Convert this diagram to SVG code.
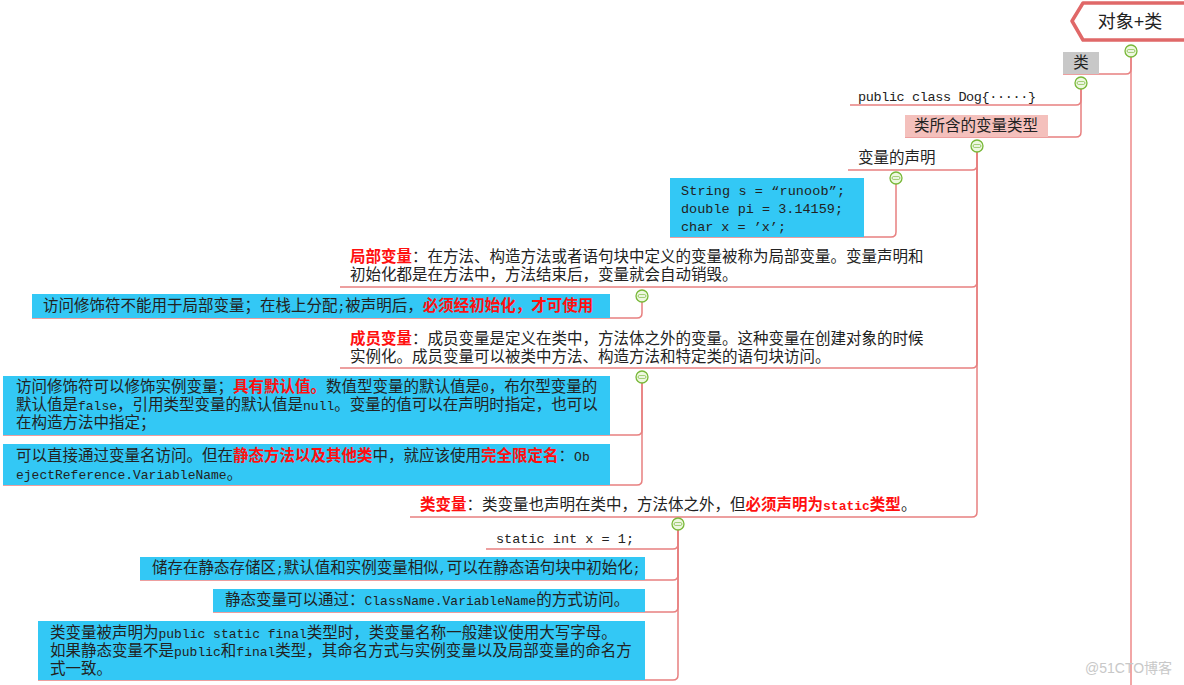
<svg xmlns="http://www.w3.org/2000/svg" width="1184" height="685" viewBox="0 0 1184 685">
<style>
.t{font-family:"Liberation Sans","Noto Sans CJK SC",sans-serif;font-size:15.5px;fill:#222}
.m{font-family:"Liberation Mono","Noto Sans CJK SC",monospace;font-size:13px}
.r{fill:#ff1010;font-weight:bold}
.code{font-family:"Liberation Mono","Noto Sans CJK SC",monospace;font-size:13.5px;fill:#222}
.c{fill:none;stroke:#e88080;stroke-width:1.5}
.blue{fill:#33c8f5}
.tog circle{fill:#eef8e0;stroke:#78b838;stroke-width:1.3}
.tog rect{fill:#fff;stroke:#78b838;stroke-width:0.8}
</style>
<defs>
<g id="tg" class="tog"><circle r="6"/><rect x="-3.8" y="-1.3" width="7.6" height="2.6" rx="1"/></g>
</defs>
<rect width="1184" height="685" fill="#fff"/>

<g id="connectors">
<path d="M1131,51 V685" fill="none" stroke="#f2a6a6" stroke-width="2"/>
<path class="c" d="M1131,57 V69 Q1131,74 1126,74 H1063"/>
<path class="c" d="M1081,89 V100 Q1081,105 1076,105 H850"/>
<path class="c" d="M1081,89 V132 Q1081,137 1076,137 H905"/>
<path class="c" d="M977,152 V165 Q977,170 972,170 H848"/>
<path class="c" d="M977,152 V282 Q977,287 972,287 H340"/>
<path class="c" d="M977,152 V363 Q977,368 972,368 H340"/>
<path class="c" d="M977,152 V512 Q977,517 972,517 H410"/>
<path class="c" d="M896,184 V232 Q896,237 891,237 H670"/>
<path class="c" d="M642,302 V313 Q642,318 637,318 H32"/>
<path class="c" d="M642,383 V430 Q642,435 637,435 H3"/>
<path class="c" d="M642,383 V480 Q642,485 637,485 H3"/>
<path class="c" d="M678,530 V544 Q678,549 673,549 H486"/>
<path class="c" d="M678,530 V575 Q678,580 673,580 H140"/>
<path class="c" d="M678,530 V607 Q678,612 673,612 H213"/>
<path class="c" d="M678,530 V675 Q678,680 673,680 H38"/>
</g>

<g id="root">
<path d="M1072,21 L1083,3 H1190 V40 H1083 Z" fill="#fff" stroke="#e06868" stroke-width="3.5" stroke-linejoin="round"/>
<text x="1130" y="28" text-anchor="middle" class="t" style="font-size:18px">对象+类</text>
<use href="#tg" x="1131" y="51"/>
</g>

<g id="n-lei">
<rect x="1063" y="52" width="36" height="22" fill="#c8c8c8"/>
<text x="1081" y="68" text-anchor="middle" class="t">类</text>
<use href="#tg" x="1081" y="83"/>
</g>

<g id="n-dog">
<text x="858" y="101" class="code" textLength="178">public class Dog{·····}</text>
</g>

<g id="n-types">
<rect x="905" y="115" width="143" height="22" fill="#f4c0bc"/>
<text x="914" y="131" class="t">类所含的变量类型</text>
<use href="#tg" x="977" y="146"/>
</g>

<g id="n-decl">
<text x="858" y="163" class="t">变量的声明</text>
<use href="#tg" x="896" y="178"/>
</g>

<g id="n-code">
<rect x="670" y="178" width="194" height="59" class="blue"/>
<text x="681" y="195" class="code" textLength="164">String s = “runoob”;</text>
<text x="681" y="213" class="code" textLength="162">double pi = 3.14159;</text>
<text x="681" y="231" class="code" textLength="105">char x = ’x’;</text>
</g>

<g id="n-local">
<text x="350" y="262" class="t"><tspan class="r">局部变量</tspan>：在方法、构造方法或者语句块中定义的变量被称为局部变量。变量声明和</text>
<text x="350" y="280" class="t">初始化都是在方法中，方法结束后，变量就会自动销毁。</text>
<use href="#tg" x="642" y="296"/>
</g>

<g id="n-local-1">
<rect x="32" y="294" width="578" height="24" class="blue"/>
<text x="43" y="311" class="t">访问修饰符不能用于局部变量；在栈上分配<tspan class="m">;</tspan>被声明后，<tspan class="r">必须经初始化，才可使用</tspan></text>
</g>

<g id="n-member">
<text x="350" y="344" class="t"><tspan class="r">成员变量</tspan>：成员变量是定义在类中，方法体之外的变量。这种变量在创建对象的时候</text>
<text x="350" y="362" class="t">实例化。成员变量可以被类中方法、构造方法和特定类的语句块访问。</text>
<use href="#tg" x="642" y="377"/>
</g>

<g id="n-member-1">
<rect x="3" y="376" width="607" height="59" class="blue"/>
<text x="16" y="392" class="t">访问修饰符可以修饰实例变量；<tspan class="r">具有默认值。</tspan>数值型变量的默认值是<tspan class="m">0</tspan>，布尔型变量的</text>
<text x="16" y="410" class="t">默认值是<tspan class="m">false</tspan>，引用类型变量的默认值是<tspan class="m">null</tspan>。变量的值可以在声明时指定，也可以</text>
<text x="16" y="428" class="t">在构造方法中指定；</text>
</g>

<g id="n-member-2">
<rect x="3" y="444" width="607" height="41" class="blue"/>
<text x="16" y="461" class="t">可以直接通过变量名访问。但在<tspan class="r">静态方法以及其他类</tspan>中，就应该使用<tspan class="r">完全限定名</tspan>：<tspan class="m">Ob</tspan></text>
<text x="16" y="479" class="t"><tspan class="m">ejectReference.VariableName</tspan>。</text>
</g>

<g id="n-class">
<text x="420" y="510" class="t"><tspan class="r">类变量</tspan>：类变量也声明在类中，方法体之外，但<tspan class="r">必须声明为</tspan><tspan class="m r">static</tspan><tspan class="r">类型</tspan>。</text>
<use href="#tg" x="678" y="524"/>
</g>

<g id="n-static">
<text x="496" y="543" class="code" textLength="138">static int x = 1;</text>
</g>

<g id="n-class-1">
<rect x="140" y="557" width="505" height="23" class="blue"/>
<text x="152" y="573" class="t">储存在静态存储区<tspan class="m">;</tspan>默认值和实例变量相似<tspan class="m">,</tspan>可以在静态语句块中初始化<tspan class="m">;</tspan></text>
</g>

<g id="n-class-2">
<rect x="213" y="589" width="432" height="23" class="blue"/>
<text x="225" y="605" class="t">静态变量可以通过：<tspan class="m">ClassName.VariableName</tspan>的方式访问。</text>
</g>

<g id="n-class-3">
<rect x="38" y="621" width="607" height="59" class="blue"/>
<text x="50" y="638" class="t">类变量被声明为<tspan class="m">public static final</tspan>类型时，类变量名称一般建议使用大写字母。</text>
<text x="50" y="656" class="t">如果静态变量不是<tspan class="m">public</tspan>和<tspan class="m">final</tspan>类型，其命名方式与实例变量以及局部变量的命名方</text>
<text x="50" y="674" class="t">式一致。</text>
</g>

<text x="1085" y="673" style="font-family:'Liberation Sans','Noto Sans CJK SC',sans-serif;font-size:14px;fill:#c8c8c8">@51CTO博客</text>
</svg>
